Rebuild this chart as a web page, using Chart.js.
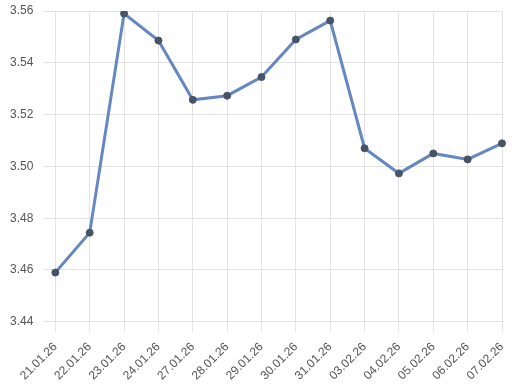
<!DOCTYPE html>
<html><head><meta charset="utf-8">
<script src="https://cdn.jsdelivr.net/npm/chart.js@4"></script>
<style>html,body{margin:0;padding:0;background:#fff}#w{width:514px;height:392px}</style>
</head><body><div id="w"><canvas id="c"></canvas></div>
<script>
const categories = ["21.01.26","22.01.26","23.01.26","24.01.26","27.01.26","28.01.26","29.01.26","30.01.26","31.01.26","03.02.26","04.02.26","05.02.26","06.02.26","07.02.26"];
const values = [3.459,3.4744,3.559,3.5486,3.5257,3.5273,3.5345,3.549,3.5563,3.507,3.4973,3.505,3.5027,3.5089];
const yTicks = [3.44,3.46,3.48,3.50,3.52,3.54,3.56];

new Chart(document.getElementById('c'), {
  type: 'line',
  data: { labels: categories, datasets: [{
    data: values, borderColor: '#6688c0', borderWidth: 3,
    pointBackgroundColor: '#475468', pointBorderColor: '#475468', pointRadius: 3.5, pointBorderWidth: 1,
    tension: 0, fill: false
  }]},
  options: {
    responsive: true, maintainAspectRatio: false, animation: false,
    layout: { padding: { top: 11, right: 12, left: 0, bottom: 1 } },
    plugins: { legend: { display: false }, tooltip: { enabled: false } },
    scales: {
      x: { grid: { color: '#e3e3e3', tickLength: 10 }, border: { color: '#e3e3e3' },
        afterFit: s => { s.paddingRight = 0; },
        ticks: { color: '#555', padding: 8, font: { family: 'Liberation Sans', size: 12 }, maxRotation: 45, minRotation: 45, autoSkip: false } },
      y: { min: 3.44, max: 3.56, grid: { color: '#e3e3e3', tickLength: 12 }, border: { display: false },
        afterFit: s => { s.paddingTop = 0; },
        afterBuildTicks: s => { s.ticks = yTicks.map(v => ({ value: v })); },
        ticks: { color: '#555', padding: 10, font: { family: 'Liberation Sans', size: 12 }, callback: v => v.toFixed(2) } }
    }
  }
});
</script></body></html>
